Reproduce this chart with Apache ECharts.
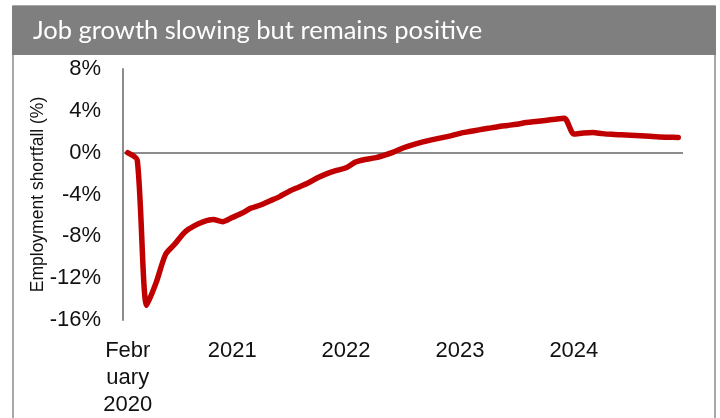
<!DOCTYPE html>
<html>
<head>
<meta charset="utf-8">
<title>Job growth slowing but remains positive</title>
<script src="https://cdn.jsdelivr.net/npm/echarts@6/dist/echarts.min.js"></script>
<style>
  html, body { margin: 0; padding: 0; background: #ffffff; }
  #chart { width: 720px; height: 418px; }
</style>
</head>
<body>
<div id="chart"></div>
<script>
// Monthly periods, February 2020 through December 2024
const months = [
  '2020-02','2020-03','2020-04','2020-05','2020-06','2020-07','2020-08','2020-09','2020-10','2020-11','2020-12',
  '2021-01','2021-02','2021-03','2021-04','2021-05','2021-06','2021-07','2021-08','2021-09','2021-10','2021-11','2021-12',
  '2022-01','2022-02','2022-03','2022-04','2022-05','2022-06','2022-07','2022-08','2022-09','2022-10','2022-11','2022-12',
  '2023-01','2023-02','2023-03','2023-04','2023-05','2023-06','2023-07','2023-08','2023-09','2023-10','2023-11','2023-12',
  '2024-01','2024-02','2024-03','2024-04','2024-05','2024-06','2024-07','2024-08','2024-09','2024-10','2024-11','2024-12'
];

// Employment relative to February 2020 level, percent
const shortfall = [
  0, -0.7, -14.6, -12.4, -9.7, -8.7, -7.6, -7.0, -6.6, -6.4, -6.6,
  -6.2, -5.8, -5.3, -5.0, -4.6, -4.2, -3.7, -3.3, -2.9, -2.4, -2.0, -1.7,
  -1.45, -0.9, -0.65, -0.5, -0.25, 0.05, 0.45, 0.75, 1.0, 1.22, 1.42, 1.6,
  1.85, 2.02, 2.18, 2.33, 2.48, 2.6, 2.72, 2.88, 2.98, 3.08, 3.2, 3.3,
  1.78, 1.87, 1.92, 1.82, 1.75, 1.71, 1.67, 1.62, 1.56, 1.5, 1.48, 1.46
];

// Labelled periods on the time axis and their text
const xTickMonths = ['2020-02', '2021-01', '2022-01', '2023-01', '2024-01'];
const xTickLabels = ['Febr\nuary\n2020', '2021', '2022', '2023', '2024'];

// Value axis ticks
const yMin = -16, yMax = 8, yStep = 4;

const titleText = 'Job growth slowing but remains positive';
const yAxisTitle = 'Employment shortfall (%)';

const narrowFont = "'Liberation Sans Narrow', 'Arial Narrow', 'Liberation Sans', Arial, sans-serif";

const chart = echarts.init(document.getElementById('chart'), null, { renderer: 'canvas' });

chart.setOption({
  animation: false,
  backgroundColor: '#ffffff',
  graphic: [
    {
      type: 'rect', z: 0, silent: true,
      shape: { x: 13, y: 6, width: 702, height: 440 },
      style: { fill: 'none', stroke: '#8c8c8c', lineWidth: 1.5 }
    },
    {
      type: 'rect', z: 1, silent: true,
      shape: { x: 12, y: 6, width: 704, height: 49 },
      style: { fill: '#7f7f7f' }
    }
  ],
  title: {
    text: titleText,
    left: 33,
    top: 16,
    padding: 0,
    z: 10,
    textStyle: {
      color: '#ffffff',
      fontFamily: "Lato, 'Open Sans', sans-serif",
      fontWeight: 'normal',
      fontSize: 25.5,
      lineHeight: 30
    }
  },
  grid: { left: 123, top: 69, width: 560, height: 252, containLabel: false },
  xAxis: {
    type: 'category',
    data: months,
    boundaryGap: true,
    axisLine: { show: false },
    axisTick: { show: false },
    splitLine: { show: false },
    axisLabel: {
      interval: function (idx, value) { return xTickMonths.indexOf(value) >= 0; },
      formatter: function (value) {
        const k = xTickMonths.indexOf(value);
        return k >= 0 ? xTickLabels[k] : '';
      },
      margin: 17,
      color: '#111111',
      fontFamily: narrowFont,
      fontSize: 22,
      lineHeight: 27,
      align: 'center'
    }
  },
  yAxis: {
    type: 'value',
    min: yMin,
    max: yMax,
    interval: yStep,
    name: yAxisTitle,
    nameLocation: 'middle',
    nameRotate: 90,
    nameGap: 76,
    nameMoveOverlap: false,
    nameTextStyle: {
      color: '#111111',
      fontFamily: "'Liberation Sans', Arial, sans-serif",
      fontSize: 17.5
    },
    axisLine: { show: true, lineStyle: { color: '#8c8c8c', width: 2 } },
    axisTick: { show: false },
    splitLine: { show: false },
    axisLabel: {
      formatter: function (v) { return v + '%'; },
      margin: 22,
      color: '#111111',
      fontFamily: narrowFont,
      fontSize: 22
    }
  },
  series: [
    {
      type: 'line',
      data: shortfall,
      smooth: 0.25,
      showSymbol: false,
      symbol: 'none',
      lineStyle: { color: '#c00000', width: 5.5, cap: 'round', join: 'round' },
      z: 3,
      markLine: {
        silent: true,
        symbol: ['none', 'none'],
        label: { show: false },
        lineStyle: { color: '#8c8c8c', width: 2, type: 'solid' },
        data: [{ yAxis: 0 }],
        z: 2
      }
    }
  ]
});
</script>
</body>
</html>
